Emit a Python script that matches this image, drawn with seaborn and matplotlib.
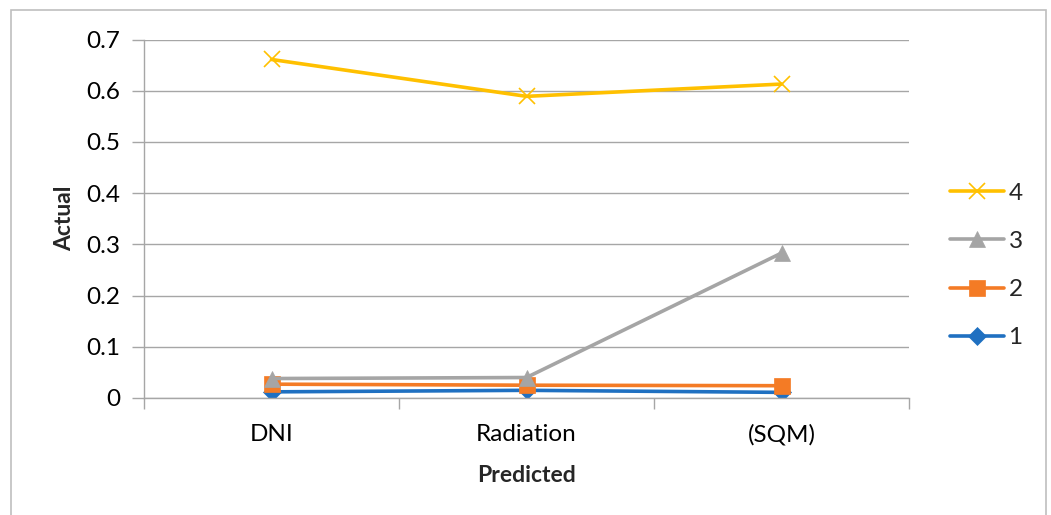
import matplotlib
matplotlib.use("Agg")
import matplotlib.pyplot as plt
import seaborn as sns
import pandas as pd
from matplotlib.patches import Rectangle
from matplotlib.lines import Line2D

categories = ["DNI", "Radiation", "(SQM)"]
series_names = ["1", "2", "3", "4"]
s1 = [0.012, 0.015, 0.011]
s2 = [0.027, 0.025, 0.024]
s3 = [0.038, 0.040, 0.283]
s4 = [0.661, 0.589, 0.613]
y_ticks = [0, 0.1, 0.2, 0.3, 0.4, 0.5, 0.6, 0.7]
y_tick_labels = ["0", "0.1", "0.2", "0.3", "0.4", "0.5", "0.6", "0.7"]

colors = ["#1F70C1", "#F47B25", "#A5A5A5", "#FFC000"]
markers = ["D", "s", "^", "x"]
msizes = [9.5, 11, 11, 12]

sns.set_theme(style="white")
plt.rcParams['font.family'] = ['Lato', 'DejaVu Sans']

W, H = 1051, 515
fig = plt.figure(figsize=(W / 100, H / 100), dpi=100)
ax = fig.add_axes([144 / W, (H - 398) / H, (909 - 144) / W, (398 - 39.5) / H])

rows = []
for name, vals in zip(series_names, [s1, s2, s3, s4]):
    for i, (c, v) in enumerate(zip(categories, vals)):
        rows.append({"pos": i, "cat": c, "series": name, "value": v})
df = pd.DataFrame(rows)

LW = 2.6
for name, col, mk, ms in zip(series_names, colors, markers, msizes):
    sub = df[df["series"] == name]
    sns.lineplot(data=sub, x="pos", y="value", ax=ax, color=col, linewidth=LW,
                 marker=mk, markersize=ms, markeredgecolor=col,
                 markeredgewidth=(1.2 if mk == "x" else 0.5), legend=False)

ax.set_xlim(-0.5, 2.5)
ax.set_ylim(0, 0.7)
ax.set_yticks(y_ticks)
ax.set_yticklabels(y_tick_labels)
ax.set_xticks([-0.5, 0.5, 1.5, 2.5])
ax.set_xticklabels([])
ax.set_xticks(range(len(categories)), minor=True)
ax.set_xticklabels(categories, minor=True)
ax.tick_params(axis="x", which="major", length=8, width=1, color="#A6A6A6", direction="out", bottom=True)
ax.tick_params(axis="x", which="minor", length=0, labelsize=17.5, pad=19, colors="black")
ax.tick_params(axis="y", which="major", length=9, width=1, color="#A6A6A6", direction="out", left=True,
               labelsize=17.5, pad=8, labelcolor="black")
ax.yaxis.grid(True, color="#A6A6A6", linewidth=1)
ax.xaxis.grid(False)
for s in ["top", "right"]:
    ax.spines[s].set_visible(False)
for s in ["left", "bottom"]:
    ax.spines[s].set_color("#A6A6A6")
    ax.spines[s].set_linewidth(1)
ax.set_xlabel("Predicted", fontsize=16.5, fontweight="bold", labelpad=14)
ax.set_ylabel("Actual", fontsize=16.5, fontweight="bold", labelpad=8)

handles = [Line2D([0], [0], color=c, marker=m, markersize=ms, linewidth=LW, markeredgecolor=c,
                  markeredgewidth=(1.2 if m == "x" else 0.5))
           for c, m, ms in zip(colors, markers, msizes)]
leg = fig.legend(handles[::-1], series_names[::-1], loc="center left",
                 bbox_to_anchor=(938 / W, (H - 265.5) / H), frameon=False, fontsize=17.5,
                 handlelength=2.2, labelspacing=1.12, handletextpad=0.2, borderpad=0)

fig.patches.append(Rectangle((11 / W, -0.1), (1046 - 11) / W, (H - 10) / H + 0.1,
                             transform=fig.transFigure, fill=False, edgecolor="#BFBFBF",
                             linewidth=1.2))

fig.savefig("out.png", dpi=100, facecolor="white")
